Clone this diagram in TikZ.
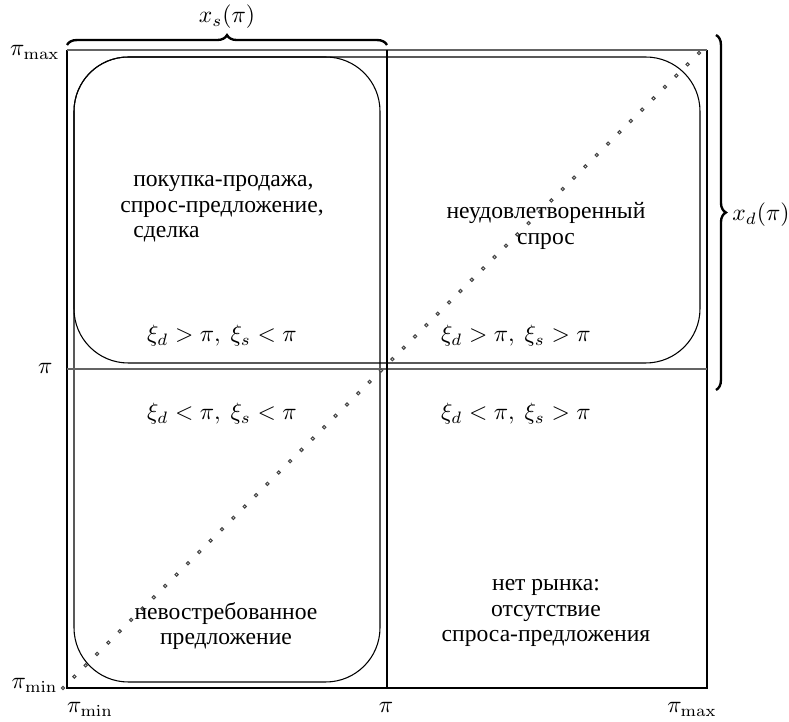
\documentclass[tikz,border=0pt]{standalone}
\usepackage{amsmath}
\usepackage[no-math]{fontspec}
\setmainfont{LiberationSerif}[Extension=.ttf, UprightFont=*-Regular, BoldFont=*-Bold]
\usepackage{tikz}
\usetikzlibrary{decorations.pathreplacing}
\definecolor{axgray}{RGB}{100,100,100}
\definecolor{dotgray}{RGB}{70,70,70}
\tikzstyle{region} = [draw=black, line width=0.45pt, rounded corners=23pt]
\tikzstyle{frame} = [draw=black, line width=0.45pt]
\tikzstyle{pline} = [draw=axgray, line width=1.1pt]
\tikzstyle{txt} = [align=center, inner sep=0pt, font=\fontsize{10}{10.8}\selectfont]
\tikzstyle{tick} = [inner sep=0pt, anchor=base]
\tikzstyle{brc} = [decorate, decoration={brace, amplitude=4.2pt}, line width=1pt]
\tikzstyle{dotc} = [draw=dotgray, fill=white, line width=0.45pt]

\begin{document}
\begin{tikzpicture}[x=0.4237pt, y=-0.4237pt]
	\useasboundingbox (0,0) rectangle (789,722);
	% corners of the price box
	\coordinate (ll) at (67,688);
	\coordinate (lr) at (707,688);
	\coordinate (ul) at (67,50);
	\coordinate (ur) at (707,50);
	\coordinate (pl) at (67,369);
	\coordinate (pr) at (707,369);
	\coordinate (pt) at (387,50);
	\coordinate (pb) at (387,688);

	% sets x_s and x_d
	\draw [region] (74,57) rectangle (380,682);
	\draw [region] (74,57) rectangle (700,363);

	\draw [frame] (ul) -- (ll) -- (lr) -- (ur);
	\draw [pline] (ul) -- (ur);
	\draw [pline] (pl) -- (pr);
	\draw [draw=black, line width=1pt] (pt) -- (pb);

	% diagonal xi_d = xi_s
	\foreach \k in {0,...,56}
		\draw [dotc] ({63+11.357*\k},{688-11.34*\k}) circle (0.7pt);

	\node (q1) [txt, align=left] at (222,209) {\hspace*{5.5pt}покупка-продажа,\\спрос-предложение,\\\hspace*{5.5pt}сделка};
	\node (q2) [txt] at (546,226) {неудовлетворенный\\спрос};
	\node (q3) [txt] at (226,626) {невостребованное\\предложение};
	\node (q4) [txt] at (546,613) {нет рынка:\\отсутствие\\спроса-предложения};

	\node (c1) [txt] at (222,336) {$\xi_d>\pi,\ \xi_s<\pi$};
	\node (c2) [txt] at (516,336) {$\xi_d>\pi,\ \xi_s>\pi$};
	\node (c3) [txt] at (222,414) {$\xi_d<\pi,\ \xi_s<\pi$};
	\node (c4) [txt] at (516,414) {$\xi_d<\pi,\ \xi_s>\pi$};

	\node (ymax) [tick, anchor=base east] at (60,56) {$\pi_{\max}$};
	\node (ymid) [tick, anchor=base east] at (53,374) {$\pi$};
	\node (ymin) [tick, anchor=base east] at (58,689) {$\pi_{\min}$};
	\node (xmin) [tick] at (90,713) {$\pi_{\min}$};
	\node (xmid) [tick] at (386,713) {$\pi$};
	\node (xmax) [tick] at (692,713) {$\pi_{\max}$};

	\coordinate (bs1) at (67,45);
	\coordinate (bs2) at (387,45);
	\coordinate (bd1) at (716,35);
	\coordinate (bd2) at (716,390);
	\draw [brc] (bs1) -- (bs2);
	\draw [brc] (bd1) -- (bd2);
	\node (xs) [txt] at (227,17) {$x_s(\pi)$};
	\node (xd) [txt] at (761,215) {$x_d(\pi)$};
\end{tikzpicture}
\end{document}
